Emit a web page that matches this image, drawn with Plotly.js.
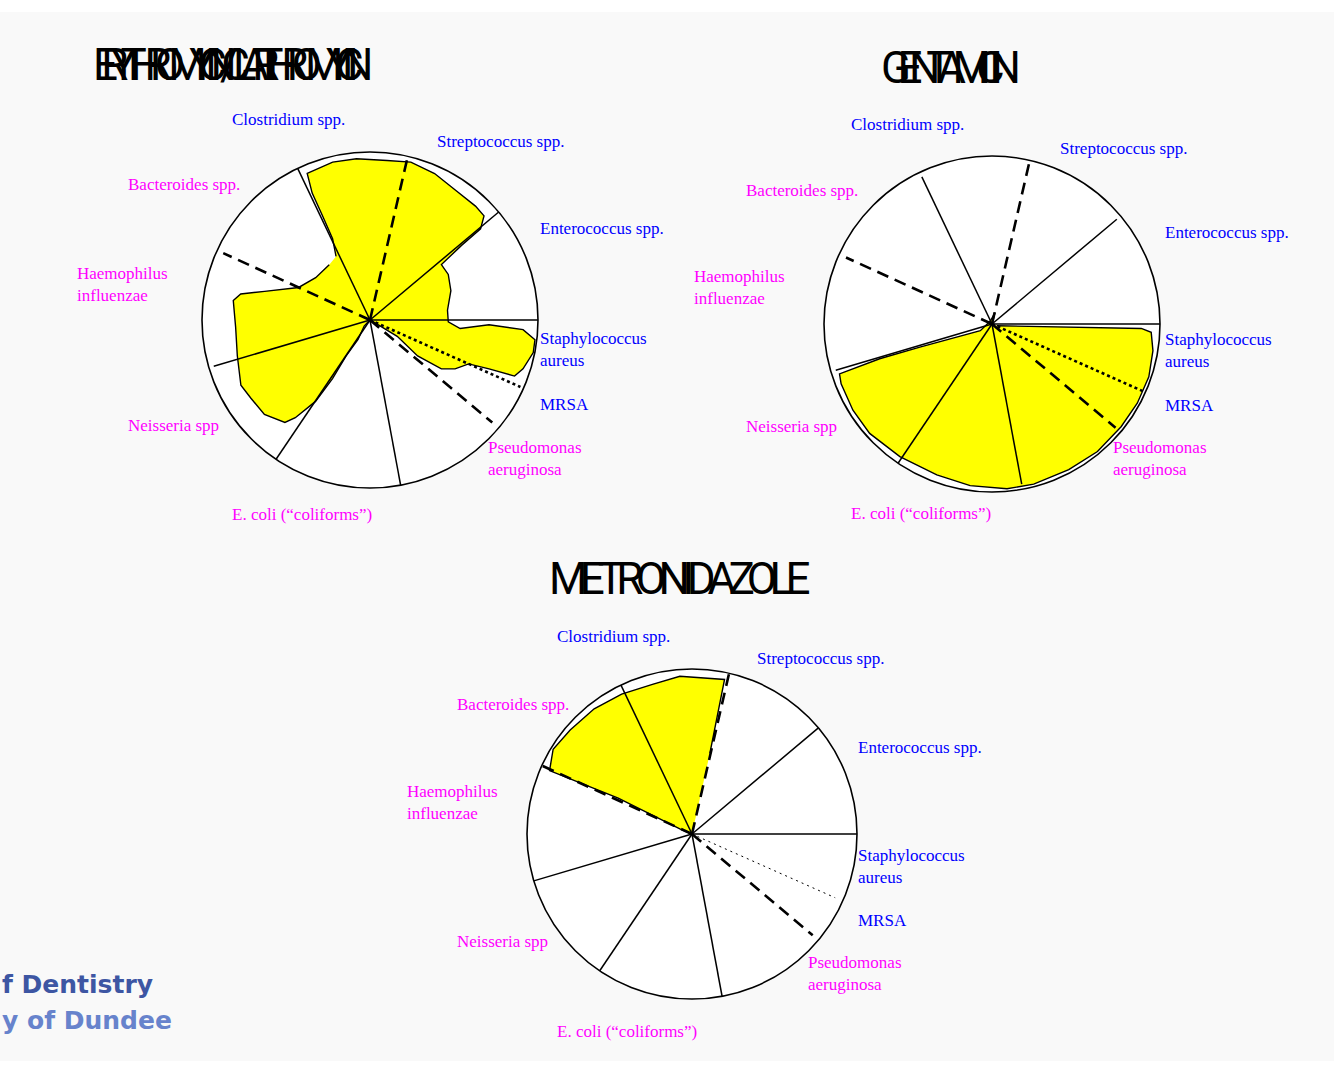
<!DOCTYPE html>
<html>
<head>
<meta charset="utf-8">
<script src="https://cdn.plot.ly/plotly-3.0.1.min.js"></script>
<style>
html,body{margin:0;padding:0;background:#ffffff;}
#chart{width:1334px;height:1070px;}
.annotation[data-index="0"] .annotation-text{letter-spacing:-16.8px;}
.annotation[data-index="1"] .annotation-text{letter-spacing:-13.5px;}
.annotation[data-index="2"] .annotation-text{letter-spacing:-7.6px;}
</style>
</head>
<body>
<div id="chart"></div>
<script>
// ---------------- DATA ----------------
const antibiotics = ['ERYTHROMYCIN/CLARITHROMYCIN', 'GENTAMICIN', 'METRONIDAZOLE'];

// sectors in counter-clockwise order starting from the horizontal (east) line
const organisms = ['Enterococcus spp.', 'Streptococcus spp.', 'Clostridium spp.', 'Bacteroides spp.',
  'Haemophilus<br>influenzae', 'Neisseria spp', 'E. coli (\u201ccoliforms\u201d)',
  'Pseudomonas<br>aeruginosa', 'MRSA', 'Staphylococcus<br>aureus'];
const gramGroup = ['pos', 'pos', 'pos', 'neg', 'neg', 'neg', 'neg', 'neg', 'pos', 'pos'];

// boundary lines between sectors (degrees, counter-clockwise from east)
const boundaryTheta = [0, 40, 77, 115.5, 155.5, 196.5, 236, 280.5, 320, 336];
const boundaryKind  = ['solid', 'solid', 'dash', 'solid', 'dash', 'solid', 'solid', 'solid', 'dash', 'dot'];

// coverage outlines (theta in degrees, r as fraction of the circle radius)
const eryTheta = [118.1, 114.7, 114.5, 114.5, 113.2, 103.3, 94.8, 83.9, 75.5, 66.2, 56.9, 47.2, 42.4, 39.5,
  39.2, 37.8, 30.2, 19.9, 7.2, 358.7, 354.6, 357.7, 356.4, 353.2, 348.7, 342.3, 338.8, 337.7, 336.0,
  330.1, 325.6, 323, 329, 330, 0, 226, 238.5, 236.3, 237.4, 236.2, 232.6, 230.3, 221.8, 213.3, 206.8,
  195.1, 182.8, 171.9, 168.6, 164.8, 155.5, 142.1, 126.4];
const eryR = [0.429, 0.533, 0.682, 0.830, 0.949, 0.966, 0.963, 0.955, 0.971, 0.953, 0.926, 0.924, 0.919, 0.853,
  0.705, 0.538, 0.539, 0.512, 0.465, 0.466, 0.539, 0.709, 0.913, 0.989, 0.991, 0.956, 0.923, 0.766, 0.643,
  0.584, 0.515, 0.355, 0.189, 0.06, 0, 0.05, 0.136, 0.256, 0.414, 0.583, 0.732, 0.793, 0.843, 0.848, 0.861,
  0.818, 0.801, 0.822, 0.785, 0.650, 0.467, 0.410, 0.409];

const gentTheta = [0, 75, 120, 209.7, 197.8, 197.2, 198.1, 201.6, 211.8, 221.8, 235.2, 249.9, 262.3, 275.2,
  284.6, 297.8, 309.6, 321.5, 331.4, 341.4, 350.6, 357, 358.3, 340];
const gentR = [0, 0.07, 0.02, 0.08, 0.451, 0.700, 0.955, 0.966, 0.974, 0.977, 0.961, 0.956, 0.971, 0.985,
  0.985, 0.980, 0.985, 0.982, 0.985, 0.985, 0.971, 0.949, 0.889, 0.03];

const metroTheta = [0, 157, 154.1, 156, 148.6, 139.5, 128, 116.7, 104.8, 94.4, 78.1, 77.5];
const metroR = [0, 0.08, 0.497, 0.945, 0.986, 0.971, 0.963, 0.949, 0.938, 0.959, 0.957, 0.5];

const coverageTheta = [eryTheta, gentTheta, metroTheta];
const coverageR = [eryR, gentR, metroR];

// partly visible watermark lines (cut by the left edge in the source)
const watermarkLines = ['f Dentistry', 'y of Dundee'];

// ---------------- LAYOUT / STYLE ----------------
const W = 1334, H = 1070;
const px = x => x / W;
const py = y => 1 - y / H;

// circle centre and radius in pixels for each chart
const charts = [
  {cx: 370, cy: 320, rad: 168, thin: false},
  {cx: 992, cy: 324, rad: 168, thin: false},
  {cx: 692, cy: 834, rad: 165, thin: true}
];
// line end radius per boundary
const boundaryExtent = [
  [1, 1.0, 1, 1, 0.96, 0.97, 1, 1, 0.95, 0.98],
  [1, 0.97, 1, 0.97, 0.955, 0.97, 1, 0.97, 0.96, 0.99],
  [1, 1.0, 1, 1, 1, 1, 1, 1, 0.955, 0.95]
];
// label anchor points (left edge, vertical middle) in pixels, same order as organisms
const labelPos = [
  [[538, 228], [435, 141], [230, 119], [126, 185], [75, 284], [126, 425], [230, 514], [486, 458], [538, 404], [538, 349]],
  [[1163, 233], [1058, 148], [849, 125], [744, 190], [692, 287], [744, 426], [849, 513], [1111, 458], [1163, 405], [1163, 351]],
  [[856, 747], [755, 659], [555, 636], [455, 704], [405, 802], [455, 941], [555, 1031], [806, 973], [856, 920], [856, 867]]
];
const titlePos = [[91, 65], [879, 68], [547, 579]];
const watermarkPos = [[0, 984], [0, 1020]];
const watermarkColor = ['#3d56a3', '#6783cc'];

const groupColor = {pos: '#0000ff', neg: '#ff00ff'};

const traces = [];
const layout = {
  width: W, height: H,
  margin: {l: 0, r: 0, t: 0, b: 0},
  paper_bgcolor: '#ffffff',
  showlegend: false,
  shapes: [{type: 'rect', xref: 'paper', yref: 'paper', x0: 0, x1: 1, y0: py(1061), y1: py(12),
    fillcolor: '#f9f9f9', line: {width: 0}, layer: 'below'}],
  annotations: []
};

// titles first (data-index 0..2 used by the css)
antibiotics.forEach((t, i) => {
  layout.annotations.push({
    text: t, xref: 'paper', yref: 'paper', x: px(titlePos[i][0]), y: py(titlePos[i][1]),
    xanchor: 'left', yanchor: 'middle', align: 'left', showarrow: false,
    font: {family: 'Roboto, "DejaVu Sans", sans-serif', size: 44, color: '#000', weight: 400}
  });
});

charts.forEach((c, k) => {
  const name = k === 0 ? 'polar' : 'polar' + (k + 1);
  layout[name] = {
    domain: {x: [px(c.cx - c.rad), px(c.cx + c.rad)], y: [py(c.cy + c.rad), py(c.cy - c.rad)]},
    bgcolor: '#ffffff',
    angularaxis: {rotation: 0, direction: 'counterclockwise', showticklabels: false, ticks: '',
      showgrid: false, showline: true, linecolor: '#000', linewidth: 1.6},
    radialaxis: {visible: false, range: [0, 1]}
  };
  // coverage area
  traces.push({
    type: 'scatterpolar', subplot: name, r: coverageR[k], theta: coverageTheta[k],
    mode: 'lines', fill: 'toself', fillcolor: '#ffff00',
    line: {color: '#000', width: 1.4}, hoverinfo: 'skip'
  });
  // boundary lines
  boundaryTheta.forEach((th, j) => {
    const kind = boundaryKind[j];
    let width = 1.5, dash = 'solid';
    if (kind === 'dash') { width = 2.6; dash = '12px,7px'; }
    if (kind === 'dot') { width = c.thin ? 1 : 2.6; dash = c.thin ? '2px,4px' : '3px,3px'; }
    traces.push({
      type: 'scatterpolar', subplot: name, r: [0, boundaryExtent[k][j]], theta: [th, th],
      mode: 'lines', line: {color: '#000', width: width, dash: dash}, hoverinfo: 'skip'
    });
  });
  // organism labels
  organisms.forEach((o, j) => {
    layout.annotations.push({
      text: o, xref: 'paper', yref: 'paper', x: px(labelPos[k][j][0]), y: py(labelPos[k][j][1]),
      xanchor: 'left', yanchor: 'middle', align: 'left', showarrow: false,
      font: {family: '"Liberation Serif", "Times New Roman", serif', size: 17, color: groupColor[gramGroup[j]]}
    });
  });
});

// watermark
watermarkLines.forEach((t, i) => {
  layout.annotations.push({
    text: t, xref: 'paper', yref: 'paper', x: px(watermarkPos[i][0]), y: py(watermarkPos[i][1]),
    xanchor: 'left', yanchor: 'middle', align: 'left', showarrow: false,
    font: {family: '"DejaVu Sans", "Open Sans", sans-serif', size: 25, color: watermarkColor[i], weight: 700}
  });
});

Plotly.newPlot('chart', traces, layout, {staticPlot: true, displayModeBar: false});
</script>
</body>
</html>
